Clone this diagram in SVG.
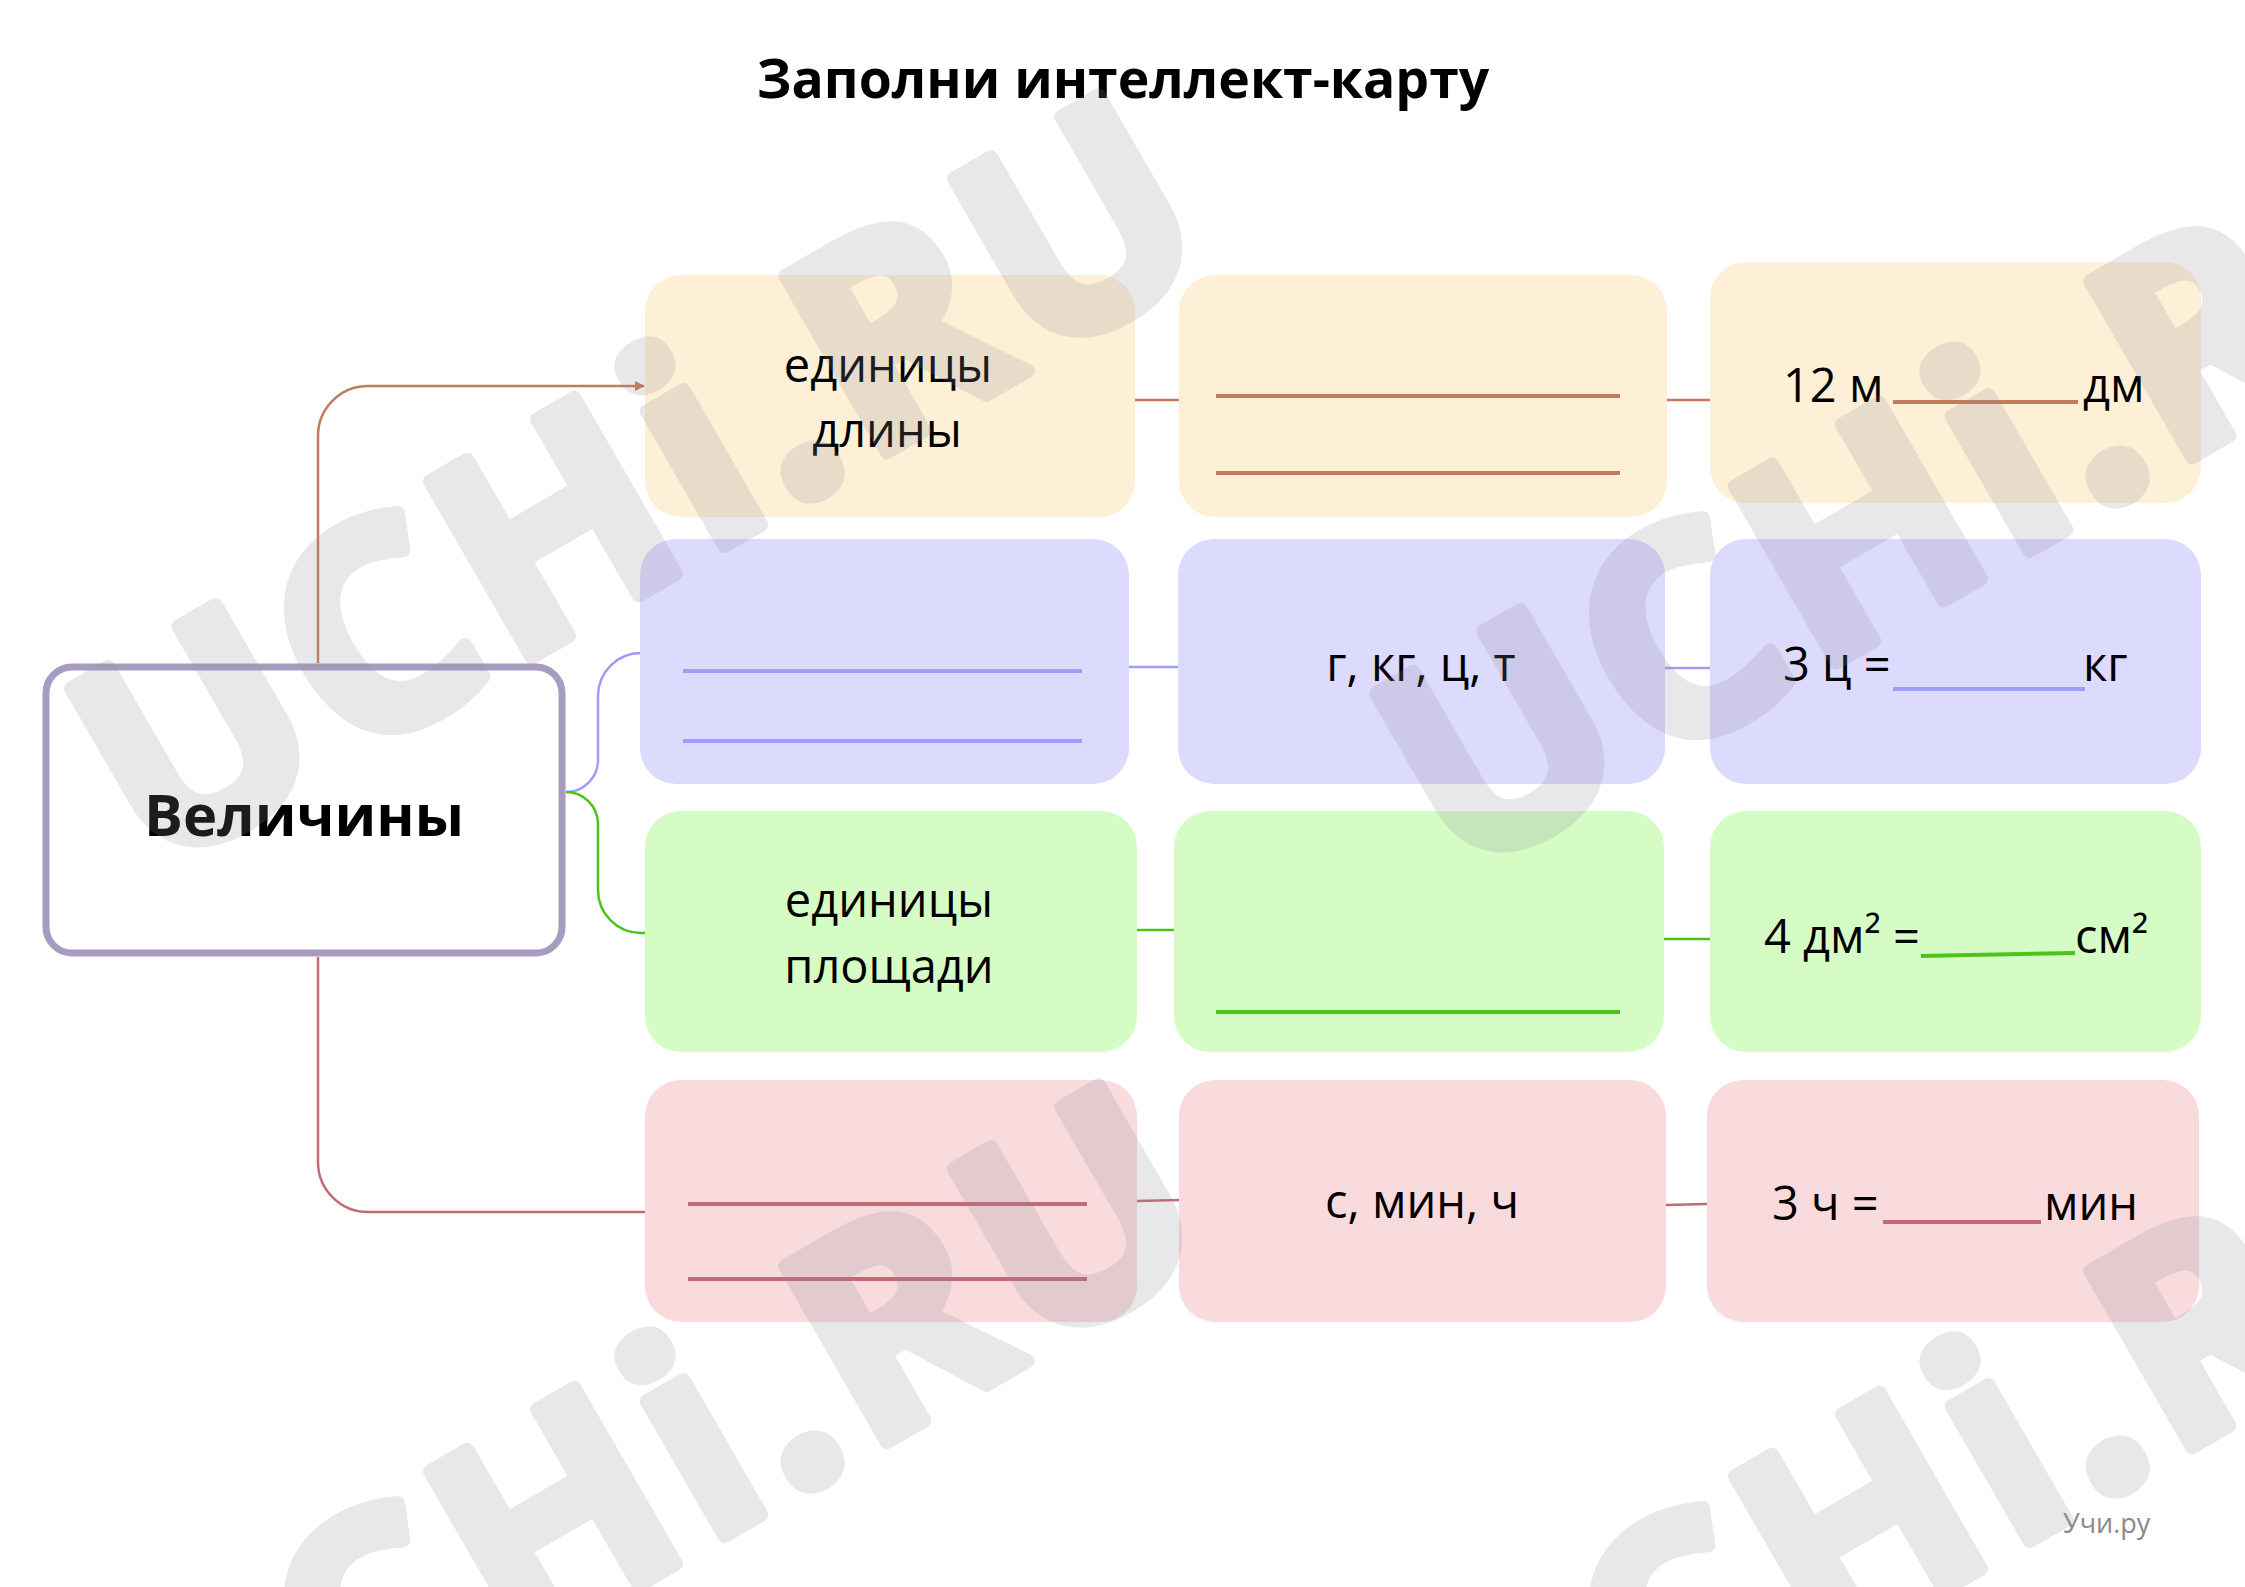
<svg xmlns="http://www.w3.org/2000/svg" width="2245" height="1587" viewBox="0 0 2245 1587">
<style>
.t{font-family:"Open Sans","Noto Sans","DejaVu Sans",sans-serif;fill:#000}
.lbl{font-size:47px}
.r1{fill:#fef0d7}.r2{fill:#dcdafd}.r3{fill:#d6fcc5}.r4{fill:#f9dadd}
.l1{stroke:#c27b5d}.l2{stroke:#9d9cf8}.l3{stroke:#4cc318}.l4{stroke:#c26b74}
.con{fill:none;stroke-width:2.5}
.bl{fill:none;stroke-width:4}
.wm{font-family:"Open Sans","DejaVu Sans",sans-serif;font-weight:700;font-size:285px;fill:#8c8c96;stroke:#8c8c96;stroke-width:14;stroke-linejoin:round;letter-spacing:8px}
</style>
<defs>
<marker id="arr" viewBox="0 0 10 10" refX="9" refY="5" markerWidth="4" markerHeight="4" orient="auto">
<path d="M0,0 L10,5 L0,10 z" fill="#c27b5d"/>
</marker>
<text id="wmt" class="wm" text-anchor="middle">UCHi.RU</text>
</defs>
<rect width="2245" height="1587" fill="#fff"/>
<text class="t" x="1123" y="98" font-size="53.5" font-weight="700" text-anchor="middle">Заполни интеллект-карту</text>

<g id="connectors">
<path class="con l1" d="M318,663 V436 A50,50 0 0 1 368,386 H644" marker-end="url(#arr)"/>
<path class="con l4" d="M318,957 V1162 A50,50 0 0 0 368,1212 H646"/>
<path class="con l2" d="M566,792 A32,32 0 0 0 598,760 V696 A43,43 0 0 1 641,653"/>
<path class="con l3" d="M566,792 A32,32 0 0 1 598,824 V890 A43,43 0 0 0 641,933 H646"/>
<path class="con l1" d="M1135,400 H1179 M1667,400 H1710"/>
<path class="con l2" d="M1129,667 H1178 M1665,668 H1710"/>
<path class="con l3" d="M1137,930 H1182 M1664,939 H1710"/>
<path class="con l4" d="M1137,1201 L1179,1200 M1666,1205 L1707,1204"/>
</g>

<g id="node-main">
<rect x="46" y="667" width="516" height="286" rx="26" fill="#fff" stroke="#a89bc0" stroke-width="7"/>
<text class="t" x="304" y="836" font-size="58" font-weight="700" text-anchor="middle">Величины</text>
</g>

<g id="node-a1"><rect class="r1" x="645" y="275" width="490" height="242" rx="36"/>
<text class="t lbl" x="888" y="382" text-anchor="middle">единицы</text>
<text class="t lbl" x="887" y="447" text-anchor="middle">длины</text></g>
<g id="node-b1"><rect class="r1" x="1179" y="275" width="488" height="242" rx="36"/>
<path class="bl l1" d="M1216,396 H1620 M1216,473 H1620"/></g>
<g id="node-c1"><rect class="r1" x="1710" y="262" width="491" height="241" rx="36"/>
<text class="t lbl" x="1783" y="402">12 м</text>
<path class="bl l1" d="M1893,402 H2078"/>
<text class="t lbl" x="2083" y="402">дм</text></g>

<g id="node-a2"><rect class="r2" x="640" y="539" width="489" height="245" rx="36"/>
<path class="bl l2" d="M683,671 H1082 M683,741 H1082"/></g>
<g id="node-b2"><rect class="r2" x="1178" y="539" width="487" height="245" rx="36"/>
<text class="t lbl" x="1421" y="681" text-anchor="middle">г, кг, ц, т</text></g>
<g id="node-c2"><rect class="r2" x="1710" y="539" width="491" height="245" rx="36"/>
<text class="t lbl" x="1783" y="681">3 ц =</text>
<path class="bl l2" d="M1893,689 H2085"/>
<text class="t lbl" x="2083" y="681">кг</text></g>

<g id="node-a3"><rect class="r3" x="645" y="811" width="492" height="241" rx="36"/>
<text class="t lbl" x="889" y="917" text-anchor="middle">единицы</text>
<text class="t lbl" x="889" y="983" text-anchor="middle">площади</text></g>
<g id="node-b3"><rect class="r3" x="1174" y="811" width="490" height="241" rx="36"/>
<path class="bl l3" d="M1216,1012 H1620"/></g>
<g id="node-c3"><rect class="r3" x="1710" y="811" width="491" height="241" rx="36"/>
<text class="t lbl" x="1764" y="953">4 дм² =</text>
<path class="bl l3" d="M1921,956 L2075,953"/>
<text class="t lbl" x="2075" y="953">см²</text></g>

<g id="node-a4"><rect class="r4" x="645" y="1080" width="492" height="242" rx="36"/>
<path class="bl l4" d="M688,1204 H1087 M688,1279 H1087"/></g>
<g id="node-b4"><rect class="r4" x="1179" y="1080" width="487" height="242" rx="36"/>
<text class="t lbl" x="1422" y="1218" text-anchor="middle">с, мин, ч</text></g>
<g id="node-c4"><rect class="r4" x="1707" y="1080" width="492" height="242" rx="36"/>
<text class="t lbl" x="1772" y="1220">3 ч =</text>
<path class="bl l4" d="M1883,1222 H2041"/>
<text class="t lbl" x="2044" y="1220">мин</text></g>

<text class="t" x="2063" y="1533" font-size="27" style="fill:#8a8a8a">Учи.ру</text>

<g id="watermark" opacity="0.2">
<use href="#wmt" transform="translate(690,566) rotate(-30)"/>
<use href="#wmt" transform="translate(690,1556) rotate(-30)"/>
<use href="#wmt" transform="translate(1995,571) rotate(-30)"/>
<use href="#wmt" transform="translate(1995,1561) rotate(-30)"/>
</g>
</svg>
